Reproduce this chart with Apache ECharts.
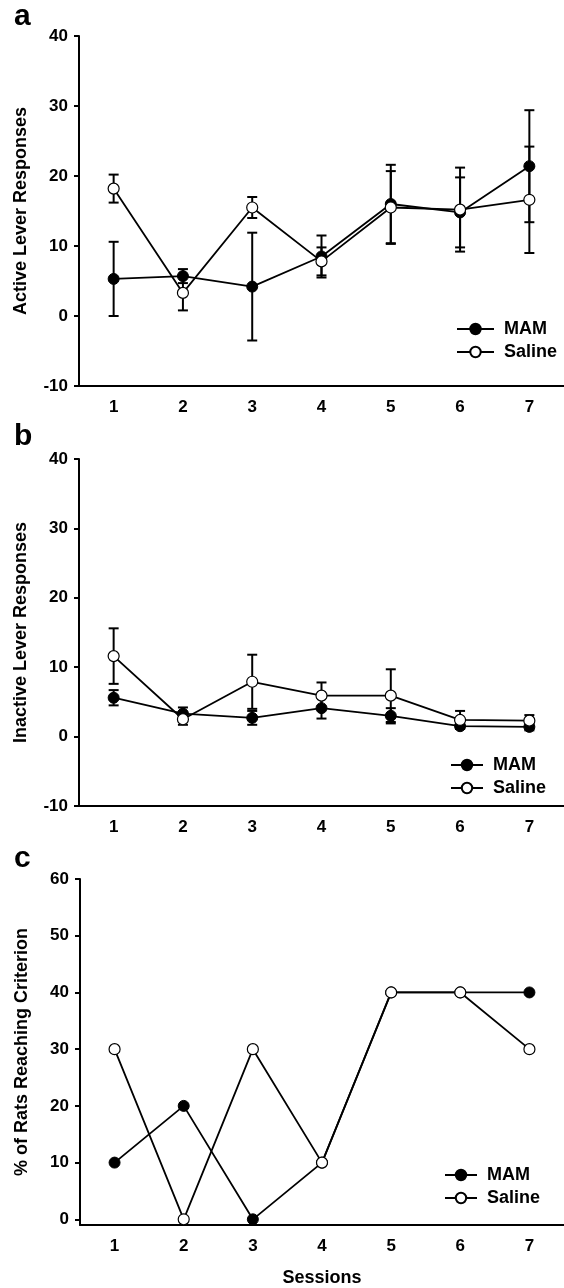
<!DOCTYPE html>
<html><head><meta charset="utf-8">
<script src="https://cdn.jsdelivr.net/npm/echarts@6/dist/echarts.min.js"></script>
<style>html,body{margin:0;padding:0;background:#fff}#c{width:564px;height:1288px}</style>
</head><body><div id="c"></div>
<script>
// ---- data ----
const sessions = ['1', '2', '3', '4', '5', '6', '7'];
// Panel a: Active lever responses (mean and error)
const activeMAM = [5.3, 5.7, 4.2, 8.5, 16.0, 14.8, 21.4];
const activeMAMErr = [5.3, 1.0, 7.7, 3.0, 5.6, 5.0, 8.0];
const activeSaline = [18.2, 3.3, 15.5, 7.8, 15.5, 15.2, 16.6];
const activeSalineErr = [2.0, 2.5, 1.5, 2.0, 5.2, 6.0, 7.6];
// Panel b: Inactive lever responses
const inactiveMAM = [5.6, 3.3, 2.7, 4.1, 3.0, 1.5, 1.4];
const inactiveMAMErr = [1.1, 0.9, 1.0, 1.5, 1.1, 0.4, 0.5];
const inactiveSaline = [11.6, 2.5, 7.9, 5.9, 5.9, 2.4, 2.3];
const inactiveSalineErr = [4.0, 0.8, 3.9, 1.9, 3.8, 1.3, 0.8];
// Panel c: % of rats reaching criterion
const criterionMAM = [10, 20, 0, 10, 40, 40, 40];
const criterionSaline = [30, 0, 30, 10, 40, 40, 30];
const criterionTicks = [0, 10, 20, 30, 40, 50, 60];
const seriesNames = ['MAM', 'Saline'];

// ---- chart ----
const FONT = "'Liberation Sans', Arial, sans-serif";
const chart = echarts.init(document.getElementById('c'), null, {renderer: 'canvas'});

function errData(mean, err) {
  return mean.map((m, i) => [i, m - err[i], m + err[i]]);
}
function errRender(params, api) {
  const x = api.value(0);
  const pLo = api.coord([x, api.value(1)]);
  const pHi = api.coord([x, api.value(2)]);
  const w = 5;
  const style = {stroke: '#000', lineWidth: 2, fill: null};
  return {type: 'group', children: [
    {type: 'line', shape: {x1: pHi[0], y1: pHi[1], x2: pLo[0], y2: pLo[1]}, style},
    {type: 'line', shape: {x1: pHi[0] - w, y1: pHi[1], x2: pHi[0] + w, y2: pHi[1]}, style},
    {type: 'line', shape: {x1: pLo[0] - w, y1: pLo[1], x2: pLo[0] + w, y2: pLo[1]}, style}
  ]};
}

const grids = [
  {left: 79, right: 0, top: 36, height: 350},
  {left: 79, right: 0, top: 459, height: 347},
  {left: 80, right: 0, top: 879, height: 347}
];

const axisLineStyle = {color: '#000', width: 2};
const labelStyle = {color: '#000', fontFamily: FONT, fontWeight: 'bold', fontSize: 17};

const xAxes = [0, 1, 2].map(i => ({
  type: 'category', gridIndex: i, data: sessions, boundaryGap: true,
  axisLine: {onZero: false, lineStyle: axisLineStyle},
  axisTick: {alignWithLabel: true, length: 5, lineStyle: {color: '#000', width: 2}},
  axisLabel: Object.assign({margin: 13}, labelStyle),
  splitLine: {show: false},
  name: i === 2 ? 'Sessions' : '',
  nameLocation: 'middle', nameGap: 44,
  nameTextStyle: {color: '#000', fontFamily: FONT, fontWeight: 'bold', fontSize: 18}
}));

const yNames = ['Active Lever Responses', 'Inactive Lever Responses', '% of Rats Reaching Criterion'];
const yAxes = [0, 1, 2].map(i => {
  const ax = {
    type: 'value', gridIndex: i,
    axisLine: {show: true, onZero: false, lineStyle: axisLineStyle},
    axisTick: {show: true, length: 5, lineStyle: {color: '#000', width: 2}},
    axisLabel: Object.assign({margin: 11}, labelStyle),
    splitLine: {show: false},
    name: yNames[i], nameLocation: 'middle', nameGap: 49,
    nameTextStyle: {color: '#000', fontFamily: FONT, fontWeight: 'bold', fontSize: 18}
  };
  if (i < 2) { ax.min = -10; ax.max = 40; ax.interval = 10; }
  else {
    ax.min = -1; ax.max = 60;
    ax.axisLabel.customValues = criterionTicks;
    ax.axisTick.customValues = criterionTicks;
  }
  return ax;
});

function lineSeries(name, data, idx) {
  const filled = name === 'MAM';
  return {
    type: 'line', name, data, xAxisIndex: idx, yAxisIndex: idx,
    symbol: 'circle', symbolSize: 11, showSymbol: true,
    lineStyle: {color: '#000', width: 1.8},
    itemStyle: filled ? {color: '#000', borderColor: '#000', borderWidth: 1}
                      : {color: '#fff', borderColor: '#000', borderWidth: 1.2},
    z: filled ? 3 : 4, animation: false
  };
}
function errSeries(mean, err, idx) {
  return {type: 'custom', renderItem: errRender, data: errData(mean, err),
    xAxisIndex: idx, yAxisIndex: idx, z: 2, silent: true, animation: false,
    encode: {x: 0, y: [1, 2]}};
}

const series = [
  errSeries(activeMAM, activeMAMErr, 0),
  errSeries(activeSaline, activeSalineErr, 0),
  lineSeries('MAM', activeMAM, 0),
  lineSeries('Saline', activeSaline, 0),
  errSeries(inactiveMAM, inactiveMAMErr, 1),
  errSeries(inactiveSaline, inactiveSalineErr, 1),
  lineSeries('MAM', inactiveMAM, 1),
  lineSeries('Saline', inactiveSaline, 1),
  lineSeries('MAM', criterionMAM, 2),
  lineSeries('Saline', criterionSaline, 2)
];

function legendAt(left, top, width) {
  return {
    data: seriesNames, orient: 'vertical', left, top,
    itemWidth: width, itemHeight: 13, itemGap: 5, padding: 0,
    selectedMode: false,
    textStyle: {color: '#000', fontFamily: FONT, fontWeight: 'bold', fontSize: 18, lineHeight: 18, padding: [0, 0, 0, 5]}
  };
}

const letters = [
  {text: 'a', top: 2},
  {text: 'b', top: 422},
  {text: 'c', top: 844}
];

chart.setOption({
  backgroundColor: '#fff',
  animation: false,
  grid: grids,
  xAxis: xAxes,
  yAxis: yAxes,
  legend: [legendAt(456, 320, 37), legendAt(450, 756, 32), legendAt(444, 1166, 32)],
  series,
  graphic: letters.map(l => ({
    type: 'text', left: 14, top: l.top,
    style: {text: l.text, font: "bold 30px " + FONT, fill: '#000'}
  }))
});
</script>
</body></html>
